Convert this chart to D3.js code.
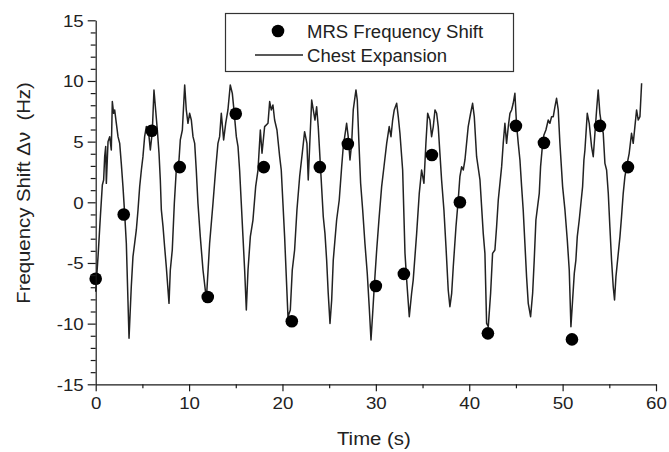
<!DOCTYPE html>
<html>
<head>
<meta charset="utf-8">
<script src="https://cdn.jsdelivr.net/npm/d3@7/dist/d3.min.js"></script>
<style>
  html, body { margin: 0; padding: 0; background: #fff; }
  svg { display: block; }
  text { font-family: "Liberation Sans", Arial, sans-serif; fill: #222; }
</style>
</head>
<body>
<svg id="chart" width="669" height="452"></svg>
<script>
// ---- data ----
const shiftTime = [0, 3, 6, 9, 12, 15, 18, 21, 24, 27, 30, 33, 36, 39, 42, 45, 48, 51, 54, 57];
const shiftValues = [-6.3, -1.0, 5.9, 2.9, -7.8, 7.3, 2.9, -9.8, 2.9, 4.8, -6.9, -5.9, 3.9, 0.0, -10.8, 6.3, 4.9, -11.3, 6.3, 2.9];

const chestTime = [
  0.00, 0.25, 0.50, 0.71, 0.85, 0.96, 1.07, 1.14, 1.32, 1.50, 1.67, 1.78, 1.92, 2.03, 2.21, 2.39, 2.57, 2.74, 2.92, 3.10,
  3.28, 3.57, 3.81, 3.99, 4.17, 4.35, 4.53, 4.71, 4.89, 5.06, 5.24, 5.42, 5.71, 5.85, 6.06, 6.24, 6.42, 6.60, 6.78, 6.92,
  7.03, 7.21, 7.38, 7.56, 7.85, 7.99, 8.20, 8.42, 8.63, 8.92, 9.06, 9.28, 9.53, 9.70, 9.88, 10.06, 10.24, 10.42, 10.60, 10.77,
  10.95, 11.20, 11.49, 11.85, 12.20, 12.56, 12.84, 13.09, 13.27, 13.45, 13.70, 13.92, 14.16, 14.41, 14.63, 14.77, 15.06, 15.24, 15.41, 15.59,
  15.77, 15.95, 16.13, 16.31, 16.56, 16.84, 17.13, 17.38, 17.63, 17.81, 18.09, 18.45, 18.63, 18.80, 18.98, 19.16, 19.41, 19.70, 19.87, 20.05,
  20.23, 20.41, 20.59, 20.84, 21.05, 21.30, 21.55, 21.84, 22.12, 22.37, 22.62, 22.76, 22.94, 23.13, 23.30, 23.48, 23.66, 23.83, 24.09, 24.37,
  24.55, 24.73, 24.90, 25.09, 25.27, 25.44, 25.80, 26.08, 26.34, 26.51, 26.87, 27.04, 27.23, 27.41, 27.58, 27.87, 28.01, 28.19, 28.37, 28.59,
  28.83, 29.08, 29.29, 29.48, 29.66, 29.83, 30.09, 30.33, 30.62, 30.87, 31.16, 31.43, 31.62, 31.80, 31.97, 32.23, 32.40, 32.58, 32.87, 33.12,
  33.30, 33.58, 33.83, 34.00, 34.37, 34.65, 34.90, 35.15, 35.36, 35.55, 35.79, 35.97, 36.15, 36.33, 36.51, 36.68, 36.86, 37.04, 37.29, 37.51,
  37.75, 37.93, 38.12, 38.29, 38.58, 38.82, 39.00, 39.19, 39.36, 39.54, 39.89, 40.15, 40.36, 40.54, 40.79, 41.15, 41.50, 41.68, 41.86, 42.04,
  42.29, 42.50, 42.75, 42.93, 43.11, 43.29, 43.47, 43.64, 43.82, 44.00, 44.18, 44.36, 44.54, 44.71, 44.89, 45.07, 45.25, 45.43, 45.61, 45.78,
  45.96, 46.14, 46.32, 46.57, 46.79, 46.96, 47.14, 47.32, 47.50, 47.64, 47.86, 48.00, 48.21, 48.46, 48.64, 48.82, 49.00, 49.18, 49.35, 49.53,
  49.71, 50.00, 50.25, 50.50, 50.71, 50.89, 51.07, 51.25, 51.42, 51.57, 51.78, 51.96, 52.14, 52.28, 52.39, 52.64, 52.85, 53.10, 53.28, 53.46,
  53.64, 53.81, 53.99, 54.17, 54.35, 54.53, 54.71, 54.89, 55.06, 55.24, 55.42, 55.56, 55.71, 55.96, 56.14, 56.31, 56.49, 56.67, 56.92, 57.13,
  57.38, 57.56, 57.74, 57.92, 58.10, 58.28, 58.46
];
const chestValues = [
  -7.37, -4.48, -1.18, 1.43, 1.84, 3.76, 4.59, 1.56, 5.00, 5.41, 4.31, 8.30, 7.33, 7.61, 6.51, 5.41, 4.86, 3.21, 1.29, -0.91,
  -3.38, -11.21, -6.96, -4.48, -3.38, -2.28, -0.63, 1.29, 2.66, 3.76, 5.41, 6.24, 5.41, 4.31, 5.82, 9.26, 7.61, 5.96, 4.04, 1.84,
  -0.63, -2.01, -3.66, -5.31, -8.33, -5.58, -3.93, -0.08, 2.66, 3.49, 5.14, 5.96, 9.67, 7.61, 6.51, 7.33, 6.78, 5.41, 4.86, 2.66,
  -0.08, -2.83, -5.58, -8.00, -3.38, -0.08, 2.66, 4.86, 5.41, 7.33, 5.14, 6.51, 7.61, 9.67, 8.98, 7.88, 5.41, 4.59, 2.66, -0.08,
  -2.83, -5.58, -8.88, -5.58, -2.83, -1.46, 1.29, 2.66, 5.96, 4.04, 6.24, 6.51, 8.30, 7.61, 8.02, 6.78, 5.96, 3.76, 2.66, -0.08,
  -2.83, -6.13, -9.43, -8.88, -5.58, -3.93, -0.63, 2.11, 4.04, 5.82, 4.86, 1.84, 5.14, 8.43, 7.61, 6.78, 7.88, 6.24, 2.66, -1.19,
  -2.56, -4.76, -7.50, -9.98, -8.05, -4.76, -1.46, 0.19, 2.93, 4.58, 6.51, 5.41, 3.49, 4.86, 7.61, 9.26, 8.43, 4.86, 1.57, -0.63,
  -3.38, -5.85, -8.61, -11.35, -9.15, -6.96, -3.93, -1.46, 1.29, 2.93, 4.86, 6.24, 5.41, 6.78, 7.61, 8.16, 7.06, 5.69, 2.66, -4.20,
  -6.41, -9.43, -7.50, -6.41, -2.56, 0.74, 2.66, 1.57, 4.86, 7.34, 6.78, 5.41, 6.24, 7.61, 7.34, 6.24, 4.04, 1.84, -0.63, -3.66,
  -7.23, -8.61, -7.50, -5.31, -2.01, 0.19, 2.11, 2.93, 2.66, 3.49, 6.24, 7.34, 8.16, 7.06, 3.76, 1.84, -2.56, -4.21, -9.98, -10.25,
  -7.50, -4.21, -3.93, -2.01, 0.19, 1.56, 2.94, 4.86, 6.51, 4.86, 6.24, 7.33, 7.61, 8.16, 8.98, 6.37, 4.86, 3.49, 1.29, -0.63,
  -3.38, -6.13, -8.33, -9.43, -7.50, -4.76, -1.46, -0.36, 0.74, 2.94, 4.86, 5.55, 5.96, 6.78, 6.51, 7.06, 7.06, 7.88, 8.57, 7.61,
  4.86, 1.29, -0.63, -3.11, -5.58, -10.25, -8.05, -5.86, -4.76, -2.83, -1.46, -0.08, 1.29, 3.49, 4.31, 7.33, 6.51, 4.59, 3.76, 5.69,
  7.61, 9.26, 7.33, 6.37, 5.69, 3.21, 2.66, 0.74, -2.01, -4.76, -6.96, -8.05, -6.13, -4.21, -2.83, -1.18, 0.74, 2.11, 3.21, 4.04,
  5.69, 4.86, 6.24, 7.61, 6.78, 7.06, 9.81
];

const xMajorTicks = [0, 10, 20, 30, 40, 50, 60];
const xMinorTicks = [5, 15, 25, 35, 45, 55];
const yMajorTicks = [-15, -10, -5, 0, 5, 10, 15];
const yMinorTicks = d3.range(-15, 16, 1).filter(v => v % 5 !== 0);

const legendLabels = ["MRS Frequency Shift", "Chest Expansion"];
const xTitle = "Time (s)";
const yTitle = "Frequency Shift \u0394\u03BD  (Hz)";

// ---- layout ----
const svg = d3.select("#chart");
const x = d3.scaleLinear().domain([0, 60]).range([95.7, 656]);
const y = d3.scaleLinear().domain([-15, 15]).range([384.3, 20.3]);
const SX = 1.1;   // horizontal text stretch
const ink = "#1a1a1a";
const plainNum = d => String(d);   // ASCII hyphen minus, as in the reference

// chest expansion line
const chest = chestTime.map((t, i) => [t, chestValues[i]]);
svg.append("path")
  .datum(chest)
  .attr("fill", "none")
  .attr("stroke", "#222")
  .attr("stroke-width", 1.5)
  .attr("stroke-linejoin", "round")
  .attr("d", d3.line().x(d => x(d[0])).y(d => y(d[1])));

// MRS dots
svg.append("g").selectAll("circle")
  .data(shiftTime.map((t, i) => [t, shiftValues[i]]))
  .join("circle")
  .attr("cx", d => x(d[0]))
  .attr("cy", d => y(d[1]))
  .attr("r", 6.3)
  .attr("fill", "#000");

// axes
const yAxisG = svg.append("g").attr("transform", `translate(${x(0)},0)`);
yAxisG.call(d3.axisLeft(y).tickValues(yMinorTicks).tickSize(5).tickFormat(""))
  .call(g => g.select(".domain").remove());
yAxisG.append("g").call(d3.axisLeft(y).tickValues(yMajorTicks).tickSizeInner(8).tickSizeOuter(0).tickPadding(4).tickFormat(plainNum));

const xAxisG = svg.append("g").attr("transform", `translate(0,${y(-15)})`);
xAxisG.call(d3.axisBottom(x).tickValues(xMinorTicks).tickSize(4).tickFormat(""))
  .call(g => g.select(".domain").remove());
xAxisG.append("g").call(d3.axisBottom(x).tickValues(xMajorTicks).tickSizeInner(7).tickSizeOuter(0).tickPadding(6).tickFormat(plainNum));

svg.selectAll(".tick line, .domain").attr("stroke", ink).attr("stroke-width", 1.2);
svg.selectAll(".tick text")
  .attr("font-size", 17)
  .attr("font-family", "Liberation Sans, Arial, sans-serif")
  .attr("fill", "#222");
// stretch tick labels horizontally
xAxisG.selectAll(".tick text").attr("transform", `scale(${SX},1)`);
yAxisG.selectAll(".tick text").each(function () {
  const t = d3.select(this);
  const xx = +t.attr("x");
  t.attr("x", xx / SX).attr("transform", `scale(${SX},1)`);
});
yAxisG.selectAll(".tick text").attr("dy", "0.35em");

// axis titles
svg.append("text")
  .attr("transform", `translate(${(x(0) + x(60)) / 2 - 2},445) scale(${SX},1)`)
  .attr("text-anchor", "middle")
  .attr("font-size", 18.5)
  .text(xTitle);

svg.append("text")
  .attr("transform", `translate(30,${193}) rotate(-90) scale(${SX},1)`)
  .attr("text-anchor", "middle")
  .attr("font-size", 18.5)
  .style("white-space", "pre")
  .text(yTitle);

// legend
const lg = svg.append("g");
lg.append("rect")
  .attr("x", 225.5).attr("y", 13.5)
  .attr("width", 288).attr("height", 58)
  .attr("fill", "#fff")
  .attr("stroke", "#333")
  .attr("stroke-width", 1.2);
lg.append("circle").attr("cx", 278).attr("cy", 31).attr("r", 6.3).attr("fill", "#000");
lg.append("line").attr("x1", 255).attr("x2", 303).attr("y1", 55).attr("y2", 55)
  .attr("stroke", "#222").attr("stroke-width", 1.5);
lg.selectAll("text.leg")
  .data(legendLabels)
  .join("text")
  .attr("class", "leg")
  .attr("transform", (d, i) => `translate(307,${i === 0 ? 37.5 : 61.5}) scale(1.06,1)`)
  .attr("font-size", 17.5)
  .text(d => d);
</script>
</body>
</html>
